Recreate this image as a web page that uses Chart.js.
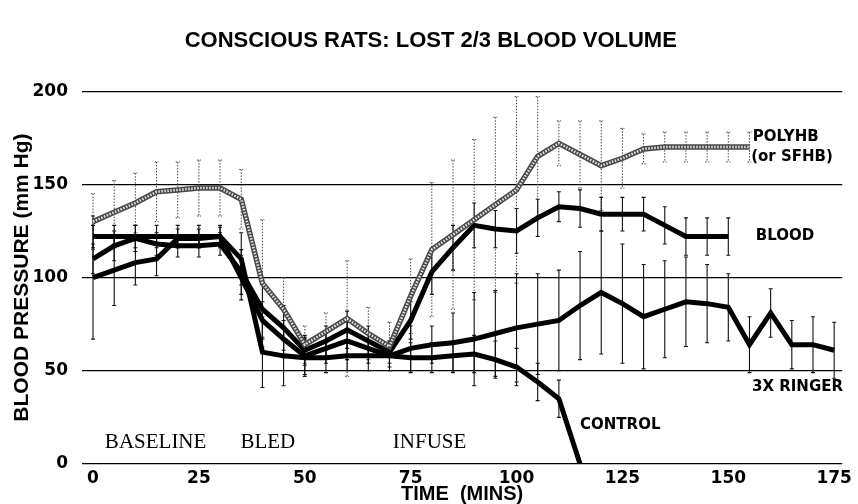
<!DOCTYPE html>
<html>
<head>
<meta charset="utf-8">
<script src="https://cdn.jsdelivr.net/npm/chart.js@4.4.1/dist/chart.umd.min.js"></script>
<style>
  html, body { margin: 0; padding: 0; background: #fff; }
</style>
</head>
<body>
<canvas id="bpChart" width="858" height="504"></canvas>
<script>
// mean blood pressure (mm Hg) and error bars
const polyhb_times = [0,5,10,15,20,25,30,35,40,45,50,55,60,65,70,75,80,85,90,95,100,105,110,115,120,125,130,135,140,145,150,155];
const polyhb_values = [130,135,140,146,147,148,148,142,97,83,64,71,78,70,63,90,115,123,131,139,147,165,172,166,160,164,169,170,170,170,170,170];
const polyhb_errors = [15,17,16,16,15,15,15,16,34,17,10,10,31,14,13,20,36,40,43,47,50,32,12,18,24,16,8,8,8,8,8,8];

const blood_times = [0,5,10,15,20,25,30,35,40,45,50,55,60,65,70,75,80,85,90,95,100,105,110,115,120,125,130,135,140,145,150];
const blood_values = [110,117,121,118,117,117,118,103,83,73,61,66,72,66,60,77,103,116,128,126,125,132,138,137,134,134,134,128,122,122,122];
const blood_errors = [8,8,7,6,6,6,6,12,15,12,8,8,10,8,6,10,12,12,12,10,12,10,8,10,9,9,9,10,10,10,10];

const ringer_times = [0,5,10,15,20,25,30,35,40,45,50,55,60,65,70,75,80,85,90,95,100,105,110,115,120,125,130,135,140,145,150,155,160,165,170,175];
const ringer_values = [100,104,108,110,121,121,122,100,77,67,58,62,66,62,58,62,64,65,67,70,73,75,77,85,92,86,79,83,87,86,84,64,81,64,64,61];
const ringer_errors = [33,19,12,9,5,5,5,12,10,10,10,8,10,8,8,12,10,16,25,23,29,27,27,29,33,32,28,26,24,21,18,15,13,13,15,15];

const control_times = [0,5,10,15,20,25,30,35,40,45,50,55,60,65,70,75,80,85,90,95,100,105,110,115];
const control_values = [122,122,122,122,122,122,122,110,60,58,57,57,58,58,58,57,57,58,59,56,52,44,35,0];
const control_errors = [6,6,6,6,6,6,6,14,19,16,10,8,8,8,6,8,8,8,10,10,10,10,10,0];

const x_ticks = [0,25,50,75,100,125,150,175];
const y_ticks = [0,50,100,150,200];

function points(times, values) {
    return times.map((t, i) => ({ x: t, y: values[i] }));
}

const error_series = [
    { times: polyhb_times, values: polyhb_values, errors: polyhb_errors, color: '#444', width: 1, dash: [1.5, 1.5] },
    { times: blood_times, values: blood_values, errors: blood_errors, color: '#111', width: 1.1, dash: [] },
    { times: ringer_times, values: ringer_values, errors: ringer_errors, color: '#111', width: 1.1, dash: [] },
    { times: control_times, values: control_values, errors: control_errors, color: '#111', width: 1.1, dash: [] }
];

const labels_on_plot = [
    { text: 'POLYHB', x: 155.8, y: 175.5, font: 'bold 15px "DejaVu Sans"' },
    { text: '(or SFHB)', x: 155.4, y: 164.5, font: 'bold 15px "DejaVu Sans"' },
    { text: 'BLOOD', x: 156.5, y: 122.3, font: 'bold 15px "DejaVu Sans"' },
    { text: '3X RINGER', x: 155.6, y: 41.3, font: 'bold 15px "DejaVu Sans"' },
    { text: 'CONTROL', x: 115, y: 21, font: 'bold 15px "DejaVu Sans"' },
    { text: 'BASELINE', x: 2.8, y: 11.8, font: '21px "Liberation Serif"' },
    { text: 'BLED', x: 34.8, y: 11.8, font: '21px "Liberation Serif"' },
    { text: 'INFUSE', x: 70.8, y: 11.8, font: '21px "Liberation Serif"' }
];

// error bars drawn under the lines
const errorBars = {
    id: 'errorBars',
    beforeDatasetsDraw(chart) {
        const { ctx, scales: { x, y } } = chart;
        ctx.save();
        error_series.forEach(s => {
            ctx.strokeStyle = s.color;
            ctx.lineWidth = s.width;
            ctx.setLineDash(s.dash);
            s.times.forEach((t, i) => {
                const err = s.errors[i];
                if (!err) return;
                const px = x.getPixelForValue(t);
                const top = y.getPixelForValue(s.values[i] + err);
                const bot = y.getPixelForValue(Math.max(0, s.values[i] - err));
                ctx.beginPath();
                ctx.moveTo(px, top); ctx.lineTo(px, bot);
                ctx.moveTo(px - 2, top); ctx.lineTo(px + 2, top);
                ctx.moveTo(px - 2, bot); ctx.lineTo(px + 2, bot);
                ctx.stroke();
            });
        });
        ctx.restore();
    }
};

const plotLabels = {
    id: 'plotLabels',
    afterDraw(chart) {
        const { ctx, scales: { x, y } } = chart;
        ctx.save();
        ctx.fillStyle = '#000';
        ctx.textAlign = 'left';
        ctx.textBaseline = 'middle';
        labels_on_plot.forEach(l => {
            ctx.font = l.font;
            ctx.fillText(l.text, x.getPixelForValue(l.x), y.getPixelForValue(l.y));
        });
        ctx.restore();
    }
};

const ctx = document.getElementById('bpChart');

new Chart(ctx,
{
    type: 'line',
    data:
    {
        datasets:
        [
            // POLYHB drawn as a light speckled core over a dark edge
            {
                data: points(polyhb_times, polyhb_values),
                borderColor: '#e6e6e6',
                borderWidth: 2.5,
                borderDash: [1.5, 1.5],
                pointRadius: 0
            },
            {
                data: points(polyhb_times, polyhb_values),
                borderColor: '#4a4a4a',
                borderWidth: 5.5,
                pointRadius: 0
            },
            {
                data: points(blood_times, blood_values),
                borderColor: '#000',
                borderWidth: 5,
                pointRadius: 0
            },
            {
                data: points(ringer_times, ringer_values),
                borderColor: '#000',
                borderWidth: 5,
                pointRadius: 0
            },
            {
                data: points(control_times, control_values),
                borderColor: '#000',
                borderWidth: 5,
                pointRadius: 0
            }
        ]
    },
    options:
    {
        responsive: false,
        animation: false,
        layout:
        {
            padding: { left: 11.5, right: 8, top: 0, bottom: 0 }
        },
        scales:
        {
            x:
            {
                type: 'linear',
                min: -2.6,
                max: 176.9,
                afterBuildTicks: (scale) => { scale.ticks = x_ticks.map(v => ({ value: v })); },
                afterFit: (scale) => { scale.height = 40; },
                grid: { display: false, drawTicks: false },
                border: { display: false },
                ticks:
                {
                    color: '#000',
                    padding: 6,
                    maxRotation: 0,
                    font: { family: 'DejaVu Sans', size: 17, weight: 'bold', lineHeight: 1 }
                },
                title:
                {
                    display: true,
                    text: 'TIME  (MINS)',
                    color: '#000',
                    padding: { top: 0, bottom: 0 },
                    font: { family: 'Liberation Sans', size: 20, weight: 'bold', lineHeight: 1 }
                }
            },
            y:
            {
                min: 0,
                max: 200,
                afterBuildTicks: (scale) => { scale.ticks = y_ticks.map(v => ({ value: v })); },
                afterFit: (scale) => { scale.width = 70.5; },
                grid: { color: '#000', lineWidth: 1.2, drawTicks: false },
                border: { display: false },
                ticks:
                {
                    color: '#000',
                    padding: 14,
                    font: { family: 'DejaVu Sans', size: 17, weight: 'bold', lineHeight: 1.2 }
                },
                title:
                {
                    display: true,
                    text: 'BLOOD PRESSURE (mm Hg)',
                    color: '#000',
                    padding: 0,
                    font: { family: 'Liberation Sans', size: 21, weight: 'bold', lineHeight: 1 }
                }
            }
        },
        plugins:
        {
            legend: { display: false },
            tooltip: { enabled: false },
            title:
            {
                display: true,
                text: 'CONSCIOUS RATS: LOST 2/3 BLOOD VOLUME',
                color: '#000',
                padding: { top: 28, bottom: 37.8 },
                font: { family: 'Liberation Sans', size: 22, weight: 'bold', lineHeight: 1.15 }
            }
        }
    },
    plugins: [errorBars, plotLabels]
});
</script>
</body>
</html>
